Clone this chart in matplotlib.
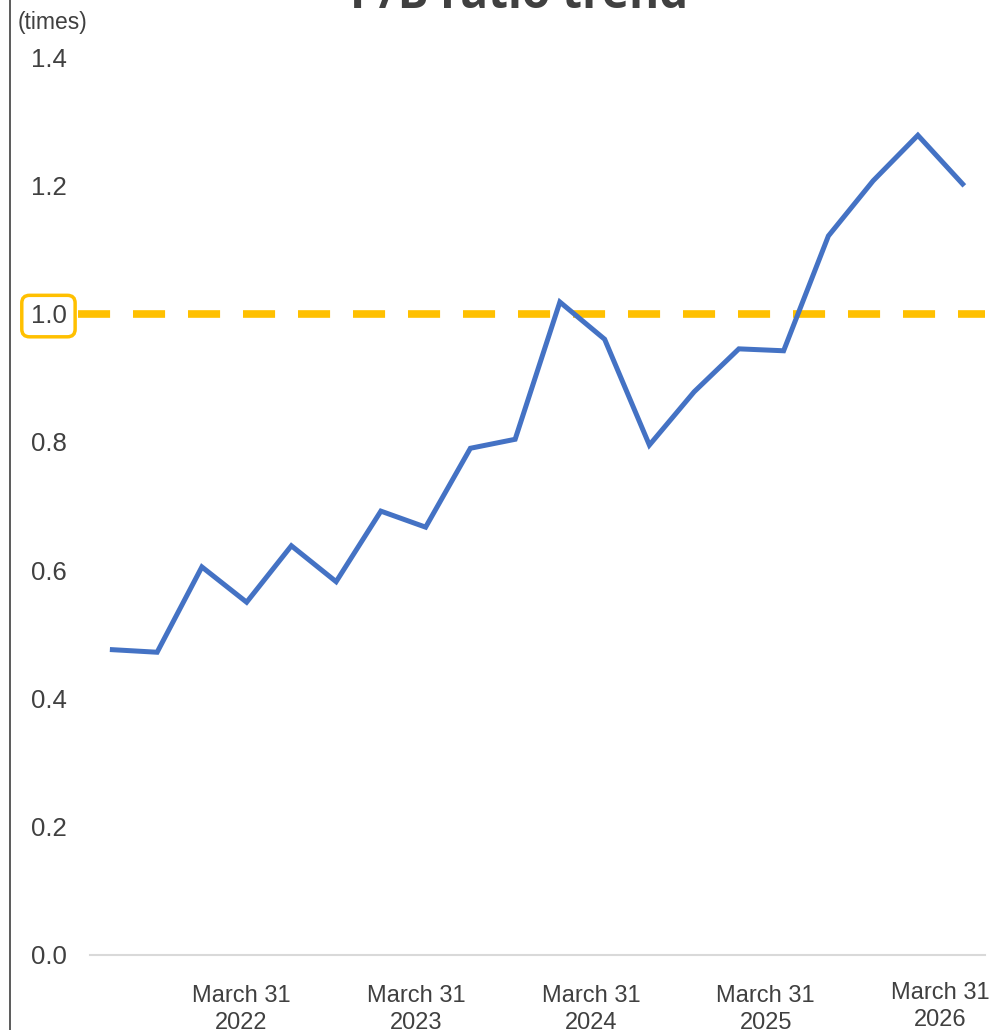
import matplotlib
matplotlib.use('Agg')
import matplotlib.pyplot as plt
from matplotlib.lines import Line2D

# P/B ratio, quarterly
pb_ratio = [0.476, 0.472, 0.605, 0.550, 0.638, 0.582, 0.692, 0.667, 0.790, 0.804,
            1.018, 0.960, 0.795, 0.878, 0.945, 0.942, 1.121, 1.207, 1.278, 1.202]
label_pos = [2.88, 6.79, 10.7, 14.6, 18.5]
label_text = ['March 31\n2022', 'March 31\n2023', 'March 31\n2024', 'March 31\n2025', 'March 31\n2026']
y_ticks = [0.0, 0.2, 0.4, 0.6, 0.8, 1.0, 1.2, 1.4]
threshold = 1.0

plt.rcParams['font.family'] = ['Liberation Sans', 'DejaVu Sans']

W, H = 989, 1030
fig = plt.figure(figsize=(W / 100, H / 100), dpi=100)
ax = fig.add_axes([90 / W, 1 - 955 / H, (985 - 90) / W, (955 - 57) / H])

x = list(range(len(pb_ratio)))
ax.plot(x, pb_ratio, color='#4472C4', lw=3.6, solid_joinstyle='miter', zorder=3)
# dashed 1.0 line runs out to the highlighted label
ax.plot([-0.77, 19.5], [threshold, threshold], color='#FFC000', lw=5.5,
        dashes=(4.2, 3.0), dash_capstyle='butt', clip_on=False, zorder=2)

ax.set_xlim(-0.5, 19.5)
ax.set_ylim(0, 1.4)
ax.set_yticks(y_ticks)
ax.set_yticklabels([f'{v:.1f}' for v in y_ticks], fontsize=18.5, color='#404040')
ax.tick_params(axis='y', length=0, pad=17)
ax.set_xticks([])

for s in ['top', 'right', 'left']:
    ax.spines[s].set_visible(False)
ax.spines['bottom'].set_color('#D9D9D9')
ax.spines['bottom'].set_linewidth(1.5)

for i, (p, t) in enumerate(zip(label_pos, label_text)):
    yy = -0.042 if i == len(label_pos) - 1 else -0.046
    ax.text(p, yy, t, ha='center', va='top', fontsize=17, color='#404040', linespacing=1.3)

# highlight the 1.0 tick label
for lbl in ax.get_yticklabels():
    if lbl.get_text() == '1.0':
        lbl.set_bbox(dict(boxstyle='round,pad=0.34,rounding_size=0.3', fc='white',
                          ec='#FFC000', lw=2.5))
        lbl.set_zorder(5)

fig.text(18 / W, 1 - 22 / H, '(times)', fontsize=16.5, color='#404040', va='center', ha='left')
fig.text(519 / W, 1 - 8 / H, 'P/B ratio trend', fontsize=33, fontweight='bold',
         color='#404040', ha='center', va='baseline', family=['Open Sans', 'DejaVu Sans'])

fig.add_artist(Line2D([10 / W, 10 / W], [0, 1], color='#404040', lw=1.2, transform=fig.transFigure))

fig.savefig('out.png', dpi=100)
